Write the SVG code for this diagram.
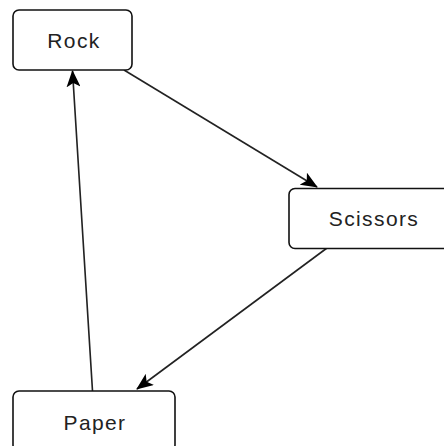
<svg xmlns="http://www.w3.org/2000/svg" width="444" height="446" viewBox="0 0 444 446">
<style>
.box{fill:#fff;stroke:#111;stroke-width:1.6}
.lbl{font-family:"Liberation Sans",Arial,sans-serif;font-size:21px;letter-spacing:1.4px;fill:#222;text-anchor:middle}
.edge{fill:none;stroke:#222;stroke-width:1.6}
</style>
<defs>
<marker id="arr" viewBox="0 0 17 14" refX="16" refY="7" markerWidth="17" markerHeight="14" markerUnits="userSpaceOnUse" orient="auto">
<path d="M0,0 L17,7 L0,14 L4,7 z" fill="#000"/>
</marker>
</defs>
<rect width="444" height="446" fill="#fff"/>
<g id="edges">
<path class="edge" d="M124,70 L317,187" marker-end="url(#arr)"/>
<path class="edge" d="M327,248 L137,389" marker-end="url(#arr)"/>
<path class="edge" d="M92.5,391 L72.5,71" marker-end="url(#arr)"/>
</g>
<g id="rock">
<rect class="box" x="13" y="10" width="119" height="60" rx="6"/>
<text class="lbl" x="74" y="48">Rock</text>
</g>
<g id="scissors">
<rect class="box" x="289" y="188.5" width="167" height="60" rx="6"/>
<text class="lbl" x="374" y="226">Scissors</text>
</g>
<g id="paper">
<rect class="box" x="13" y="391" width="162" height="60" rx="6"/>
<text class="lbl" x="95" y="430">Paper</text>
</g>
</svg>
